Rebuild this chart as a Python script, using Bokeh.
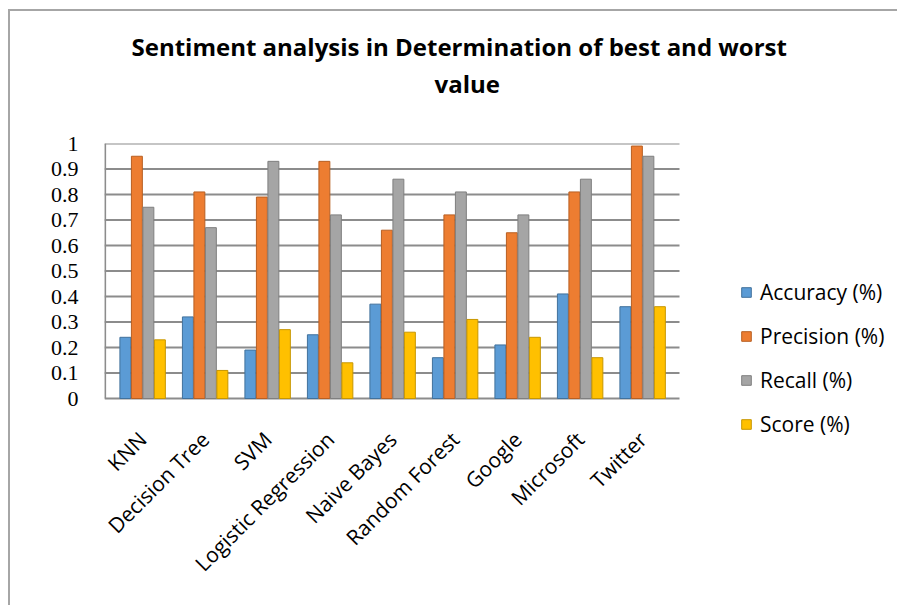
from bokeh.plotting import figure
from bokeh.models import (ColumnDataSource, Range1d, FixedTicker, Legend, LegendItem, Title)
from bokeh.embed import file_html
from bokeh.resources import INLINE
import math

categories = ["KNN", "Decision Tree", "SVM", "Logistic Regression", "Naive Bayes",
              "Random Forest", "Google", "Microsoft", "Twitter"]
accuracy = [0.24, 0.32, 0.19, 0.25, 0.37, 0.16, 0.21, 0.41, 0.36]
precision = [0.95, 0.81, 0.79, 0.93, 0.66, 0.72, 0.65, 0.81, 0.99]
recall = [0.75, 0.67, 0.93, 0.72, 0.86, 0.81, 0.72, 0.86, 0.95]
score = [0.23, 0.11, 0.27, 0.14, 0.26, 0.31, 0.24, 0.16, 0.36]
series_names = ["Accuracy (%)", "Precision (%)", "Recall (%)", "Score (%)"]
y_ticks = [0, 0.1, 0.2, 0.3, 0.4, 0.5, 0.6, 0.7, 0.8, 0.9, 1]

colors = ["#5B9BD5", "#ED7D31", "#A5A5A5", "#FFC000"]
edges = ["#41719C", "#B85F22", "#7F7F7F", "#C79600"]
offsets = [-0.276, -0.092, 0.092, 0.276]
bar_w = 0.175
FONT = "Open Sans"
GRID = "#8c8c8c"

# plot area extents (category units / value units)
X0, X1 = -0.61, 8.59

p = figure(width=889, height=596, output_backend="svg", toolbar_location=None,
           x_range=Range1d(X0, 12.11), y_range=Range1d(-0.1647, 1.0),
           min_border_left=94, min_border_right=0, min_border_top=132, min_border_bottom=167,
           styles={"margin-left": "8px", "margin-top": "9px",
                   "border-left": "2px solid #a6a6a6", "border-top": "2px solid #a6a6a6"})
p.outline_line_color = None
p.background_fill_color = "white"
p.border_fill_color = "white"
p.xgrid.grid_line_color = None
p.ygrid.grid_line_color = None

# horizontal gridlines, wall and floor
n = len(y_ticks)
p.segment(x0=[X0] * n, x1=[X1] * n, y0=y_ticks, y1=y_ticks, line_color=GRID, line_width=2)
p.segment(x0=[X0 + 0.01], x1=[X0 + 0.01], y0=[0], y1=[1], line_color=GRID, line_width=2)

idx = list(range(len(categories)))
renderers = []
for vals, name, c, e, off in zip([accuracy, precision, recall, score], series_names, colors, edges, offsets):
    src = ColumnDataSource(dict(x=[i + off for i in idx], top=vals))
    r = p.vbar(x="x", top="top", width=bar_w, bottom=0, source=src,
               fill_color=c, line_color=e, line_width=1)
    renderers.append((name, r))

# axes
p.yaxis.ticker = FixedTicker(ticks=y_ticks)
p.yaxis.major_label_overrides = {0: "0", 1: "1"}
p.yaxis.major_label_text_font = "Liberation Serif"
p.yaxis.major_label_text_font_size = "22px"
p.yaxis.major_label_text_color = "black"
p.yaxis.major_label_standoff = 20
p.yaxis.major_tick_line_color = None
p.yaxis.minor_tick_line_color = None
p.yaxis.axis_line_color = None

p.xaxis.ticker = FixedTicker(ticks=idx)
p.xaxis.major_label_overrides = {i: c for i, c in enumerate(categories)}
p.xaxis.major_label_orientation = math.pi / 4
p.xaxis.major_label_text_font = FONT
p.xaxis.major_label_text_font_size = "21px"
p.xaxis.major_label_text_color = "black"
p.xaxis.major_label_standoff = -11
p.xaxis.major_tick_line_color = None
p.xaxis.minor_tick_line_color = None
p.xaxis.axis_line_color = None

legend = Legend(items=[LegendItem(label=n_, renderers=[r]) for n_, r in renderers],
                location=(636, 2), orientation="vertical",
                glyph_width=12, glyph_height=12, label_standoff=8,
                label_text_font=FONT, label_text_font_size="21px",
                label_text_color="black", label_height=20, spacing=16,
                padding=0, margin=0, border_line_color=None,
                background_fill_alpha=0)
p.add_layout(legend, "center")

spacer = Title(text=" ", text_font=FONT, text_font_size="24px", text_font_style="bold", standoff=9)
t2 = Title(text="value", align="left", offset=330, text_font=FONT,
           text_font_size="24px", text_font_style="bold", text_color="black", standoff=0)
t1 = Title(text="Sentiment analysis in Determination of best and worst", align="left", offset=27,
           text_font=FONT, text_font_size="24px", text_font_style="bold", text_color="black", standoff=4)
p.add_layout(spacer, "above")
p.add_layout(t2, "above")
p.add_layout(t1, "above")

open("out.html", "w").write(file_html(p, INLINE))
